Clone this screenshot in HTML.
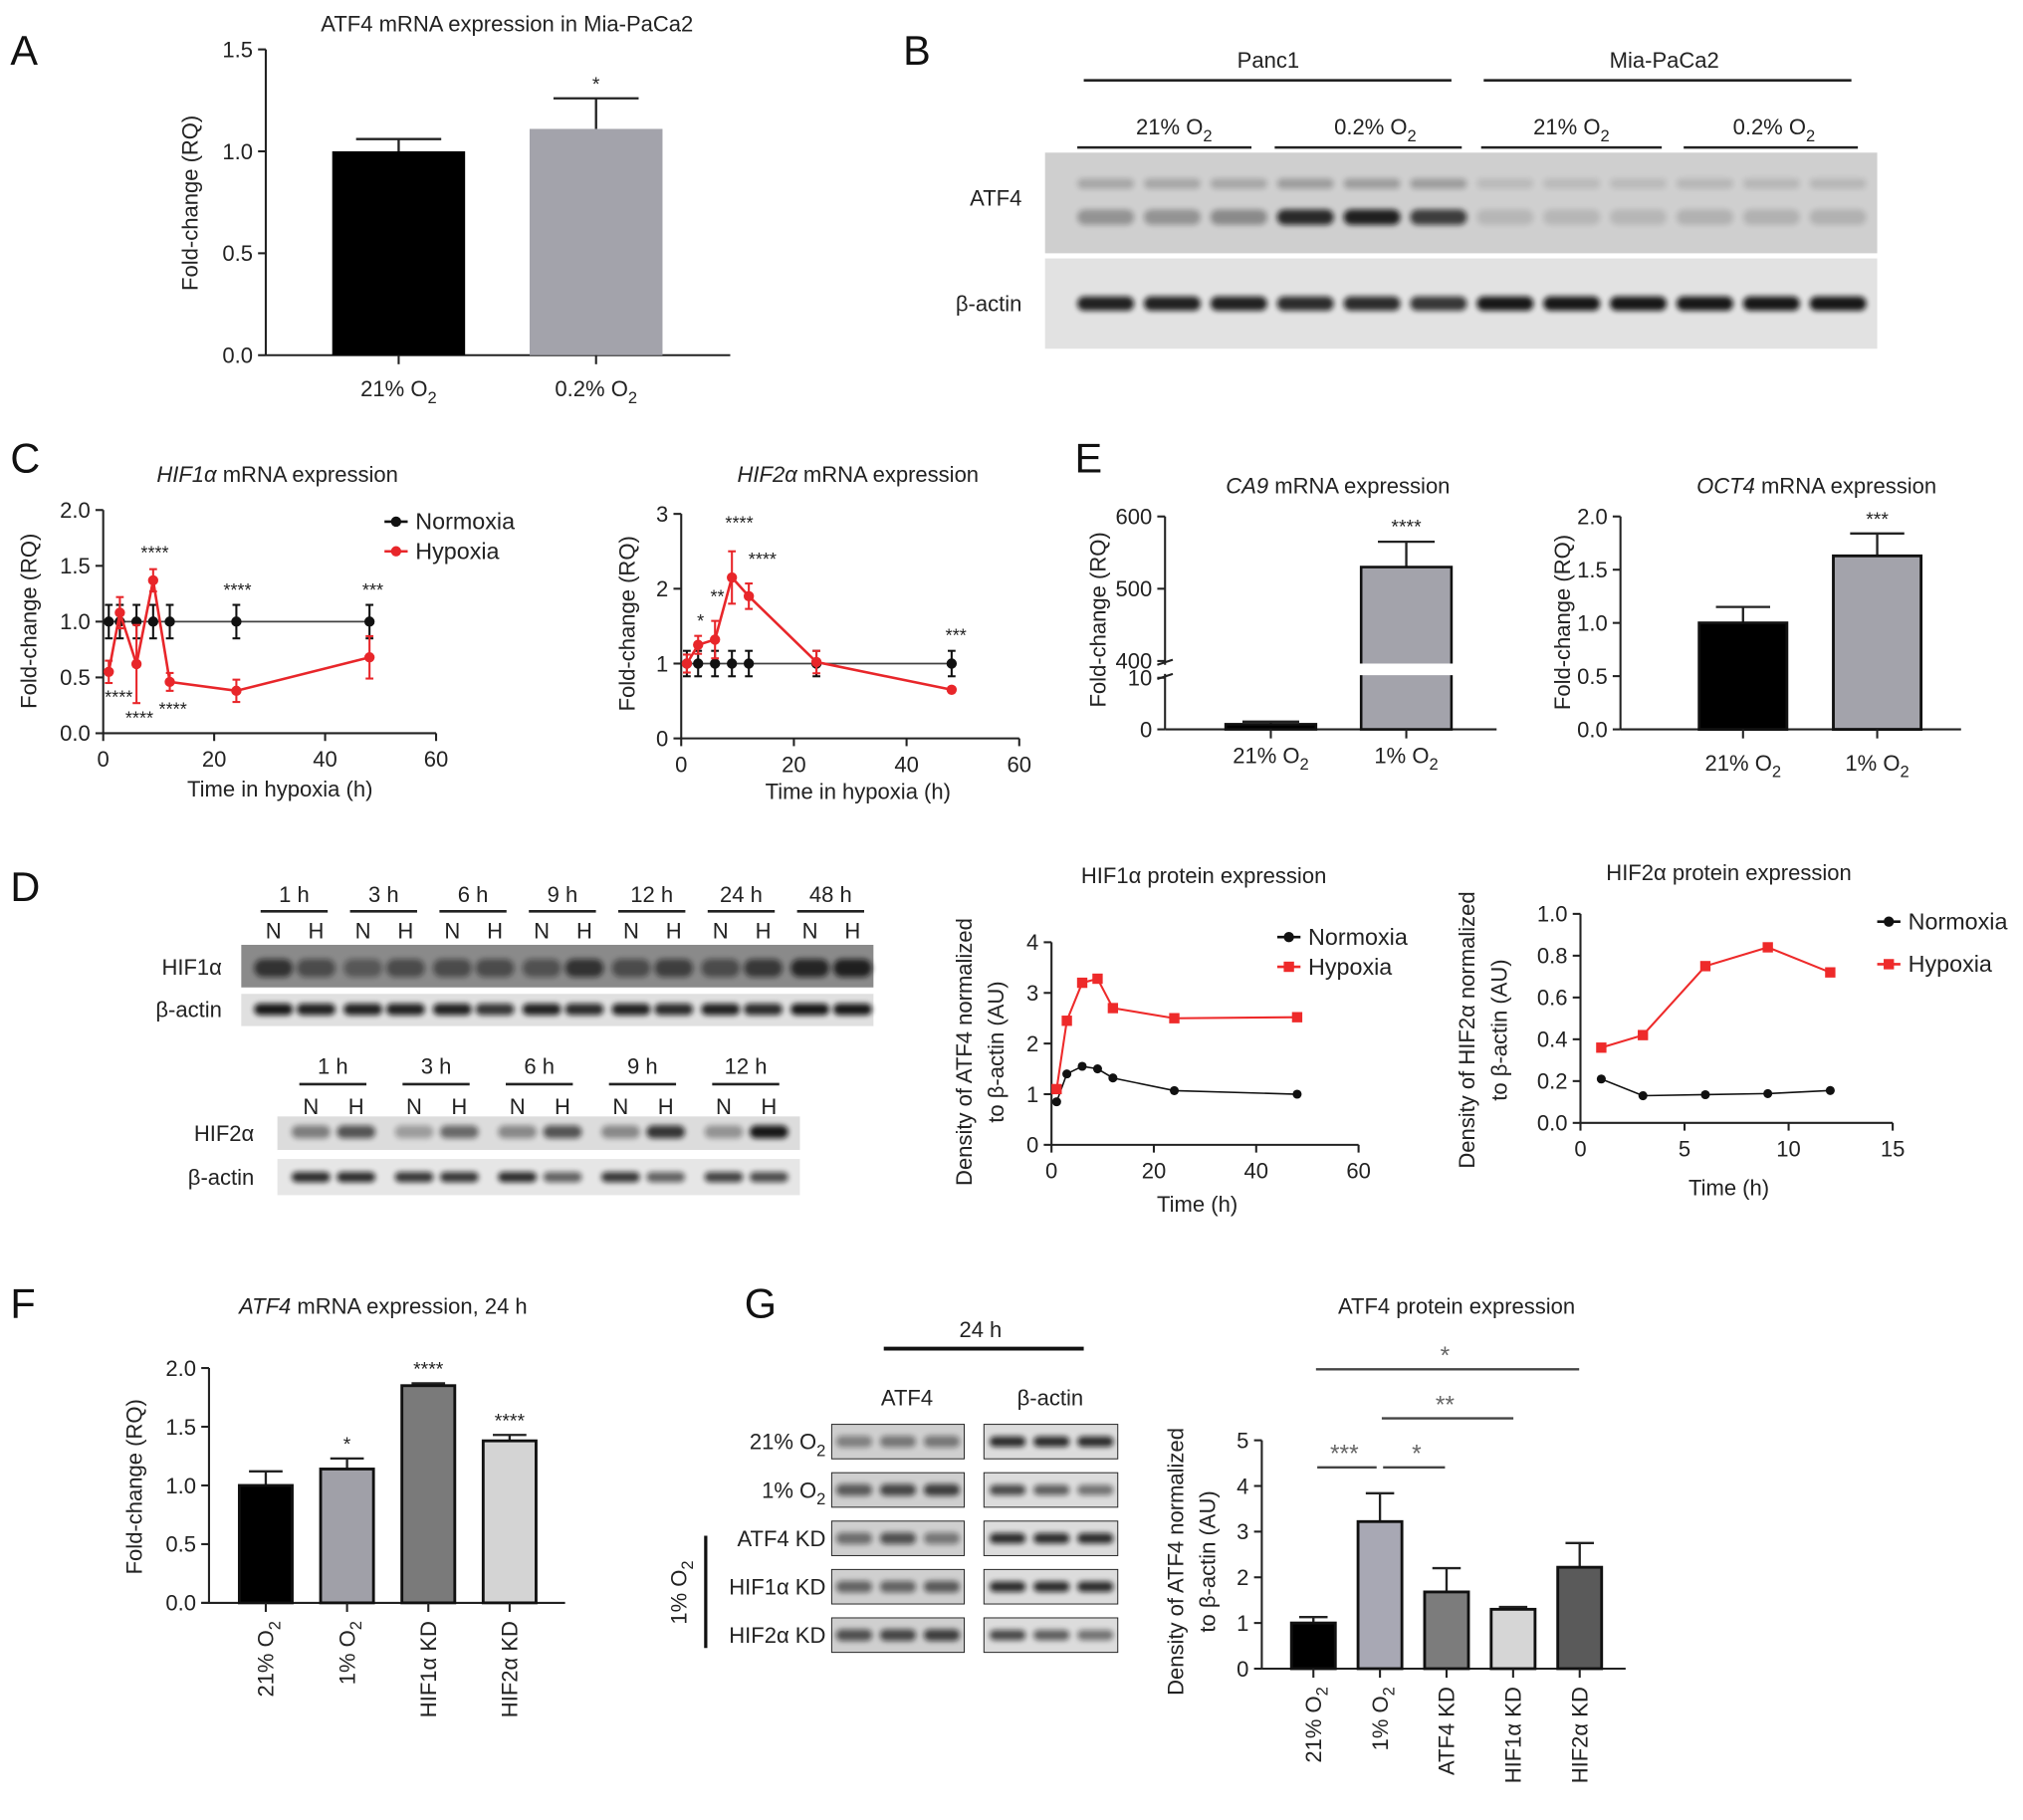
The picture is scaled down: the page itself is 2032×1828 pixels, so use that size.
<!DOCTYPE html>
<html><head><meta charset="utf-8">
<style>
html,body{margin:0;padding:0;background:#fff;}
svg{display:block;font-family:"Liberation Sans",Arial,sans-serif;}
</style></head>
<body>
<svg id="fig" xmlns="http://www.w3.org/2000/svg" width="2032" height="1828" viewBox="0 0 1568 1410">
<defs><filter id="blur" x="-20%" y="-50%" width="140%" height="200%"><feGaussianBlur stdDeviation="2"/></filter></defs>
<rect x="0" y="0" width="1568" height="1410" fill="#fff"/>
<text x="8" y="50" font-size="32" fill="#111">A</text>
<text x="700" y="50" font-size="32" fill="#111">B</text>
<text x="8" y="366" font-size="32" fill="#111">C</text>
<text x="833" y="366" font-size="32" fill="#111">E</text>
<text x="8" y="698" font-size="32" fill="#111">D</text>
<text x="8" y="1021" font-size="32" fill="#111">F</text>
<text x="577" y="1021" font-size="32" fill="#111">G</text>
</svg>
<script>
// ---------- DATA ----------
const aCats = ['21% O_2', '0.2% O_2'];
const aVals = [1.0, 1.11];
const aErrs = [0.06, 0.15];
const aTicks = [0, 0.5, 1.0, 1.5];

const c1Times = [1, 3, 6, 9, 12, 24, 48];
const c1Norm = [1, 1, 1, 1, 1, 1, 1];
const c1NormErr = [0.15, 0.15, 0.15, 0.15, 0.15, 0.15, 0.15];
const c1Hyp = [0.55, 1.08, 0.62, 1.37, 0.46, 0.38, 0.68];
const c1HypErr = [0.1, 0.14, 0.35, 0.1, 0.08, 0.1, 0.19];
const c1YTicks = [0, 0.5, 1.0, 1.5, 2.0];
const c1XTicks = [0, 20, 40, 60];

const c2Times = [1, 3, 6, 9, 12, 24, 48];
const c2Norm = [1, 1, 1, 1, 1, 1, 1];
const c2NormErr = [0.17, 0.17, 0.17, 0.17, 0.17, 0.17, 0.17];
const c2Hyp = [1.0, 1.25, 1.32, 2.15, 1.9, 1.02, 0.65];
const c2HypErr = [0.12, 0.12, 0.25, 0.35, 0.17, 0.15, 0.03];
const c2YTicks = [0, 1, 2, 3];
const c2XTicks = [0, 20, 40, 60];

const eCats = ['21% O_2', '1% O_2'];
const ca9Vals = [1, 530];
const ca9Errs = [0.5, 35];
const ca9LowTicks = [0, 10];
const ca9HighTicks = [400, 500, 600];
const oct4Vals = [1.0, 1.63];
const oct4Errs = [0.15, 0.21];
const oct4Ticks = [0, 0.5, 1.0, 1.5, 2.0];

const d1Times = [1, 3, 6, 9, 12, 24, 48];
const d1Norm = [0.85, 1.4, 1.55, 1.5, 1.32, 1.07, 1.0];
const d1Hyp = [1.1, 2.45, 3.2, 3.28, 2.7, 2.5, 2.52];
const d1YTicks = [0, 1, 2, 3, 4];
const d1XTicks = [0, 20, 40, 60];

const d2Times = [1, 3, 6, 9, 12];
const d2Norm = [0.21, 0.13, 0.135, 0.14, 0.155];
const d2Hyp = [0.36, 0.42, 0.75, 0.84, 0.72];
const d2YTicks = [0, 0.2, 0.4, 0.6, 0.8, 1.0];
const d2XTicks = [0, 5, 10, 15];

const fCats = ['21% O_2', '1% O_2', 'HIF1α KD', 'HIF2α KD'];
const fVals = [1.0, 1.14, 1.85, 1.38];
const fErrs = [0.12, 0.09, 0.02, 0.05];
const fStars = ['', '*', '****', '****'];
const fTicks = [0, 0.5, 1.0, 1.5, 2.0];

const gCats = ['21% O_2', '1% O_2', 'ATF4 KD', 'HIF1α KD', 'HIF2α KD'];
const gVals = [1.0, 3.22, 1.68, 1.3, 2.22];
const gErrs = [0.13, 0.62, 0.52, 0.05, 0.53];
const gTicks = [0, 1, 2, 3, 4, 5];

// ---------- HELPERS ----------
const NS = 'http://www.w3.org/2000/svg';
const svg = document.getElementById('fig');
function el(tag, attrs, name, parent) {
  const e = document.createElementNS(NS, tag);
  for (const k in attrs) e.setAttribute(k, attrs[k]);
  
  
  (parent || svg).appendChild(e);
  return e;
}
function fmt(v, d) { return v.toFixed(d); }
// text with ~italic~ and _2 subscripts
function txt(x, y, s, name, o) {
  o = o || {};
  const a = { x: x, y: y, 'font-size': o.size || 16, 'text-anchor': o.anchor || 'middle', fill: o.fill || '#222' };
  if (o.rot != null) a.transform = 'rotate(' + o.rot + ' ' + x + ' ' + y + ')';
  const t = el('text', a, name, o.parent);
  const parts = s.split(/(~[^~]+~|_\d)/).filter(p => p.length);
  let sub = false;
  parts.forEach(p => {
    const ts = document.createElementNS(NS, 'tspan');
    if (p[0] === '~') { ts.textContent = p.slice(1, -1); ts.setAttribute('font-style', 'italic'); }
    else if (p[0] === '_') { ts.textContent = p.slice(1); ts.setAttribute('font-size', (o.size || 16) * 0.75); ts.setAttribute('dy', (o.size || 16) * 0.3); sub = true; }
    else { ts.textContent = p; if (sub) { ts.setAttribute('dy', -(o.size || 16) * 0.3); sub = false; } }
    t.appendChild(ts);
  });
  return t;
}
function line(x1, y1, x2, y2, name, stroke, w, parent) {
  return el('line', { x1: x1, y1: y1, x2: x2, y2: y2, stroke: stroke || '#222', 'stroke-width': w || 1.6 }, name, parent);
}

function yAxis(g, x, yTop, yBot, vmin, vmax, ticks, dec, size) {
  const Y = v => yBot - (v - vmin) / (vmax - vmin) * (yBot - yTop);
  line(x, yTop, x, yBot, 'y-axis-line', '#222', 1.6, g);
  ticks.forEach(t => {
    line(x - 6, Y(t), x, Y(t), 'y-tick', '#222', 1.6, g);
    txt(x - 10, Y(t) + 6, fmt(t, dec), 'y-tick-label', { anchor: 'end', size: size || 17, parent: g });
  });
  return Y;
}

function barChart(o) {
  const g = el('g', {}, o.name);
  const Y = yAxis(g, o.axisX, o.yTop, o.yBot, o.vmin, o.vmax, o.ticks, o.dec);
  line(o.axisStart || o.axisX, o.yBot, o.axisEnd, o.yBot, 'x-axis-line', '#222', 1.6, g);
  o.vals.forEach((v, i) => {
    const cx = o.c0 + i * o.step;
    const top = Y(v), etop = Y(v + o.errs[i]);
    line(cx, top, cx, etop, 'error-bar', '#222', 1.8, g);
    line(cx - o.cap, etop, cx + o.cap, etop, 'error-cap', '#222', 1.8, g);
    el('rect', { x: cx - o.bw / 2, y: top, width: o.bw, height: o.yBot - top, fill: o.colors[i], stroke: o.stroke ? '#111' : 'none', 'stroke-width': 2.2 }, 'bar-' + i, g);
    line(cx, o.yBot, cx, o.yBot + 7, 'x-tick', '#222', 1.6, g);
    if (o.rotLabels) txt(cx + 6, o.yBot + 14, o.cats[i], 'x-tick-label', { anchor: 'end', rot: -90, size: 17, parent: g });
    else txt(cx, o.yBot + 32, o.cats[i], 'x-tick-label', { size: 17, parent: g });
    if (o.stars && o.stars[i]) txt(cx, etop - 6, o.stars[i], 'significance-star', { size: 15, parent: g });
  });
  return { g: g, Y: Y };
}

function lineChart(o) {
  const g = el('g', {}, o.name);
  const Y = yAxis(g, o.axisX, o.yTop, o.yBot, o.vmin, o.vmax, o.yTicks, o.dec);
  const X = t => o.axisX + (t - o.tmin) / (o.tmax - o.tmin) * (o.xEnd - o.axisX);
  line(o.axisX, o.yBot, o.xEnd, o.yBot, 'x-axis-line', '#222', 1.6, g);
  o.xTicks.forEach(t => {
    line(X(t), o.yBot, X(t), o.yBot + 6, 'x-tick', '#222', 1.6, g);
    txt(X(t), o.yBot + 26, String(t), 'x-tick-label', { size: 17, parent: g });
  });
  o.series.forEach(s => {
    const pts = o.times.map((t, i) => X(t).toFixed(1) + ',' + Y(s.vals[i]).toFixed(1)).join(' ');
    el('polyline', { points: pts, fill: 'none', stroke: s.color, 'stroke-width': s.lw || 2, opacity: s.op || 1 }, s.name + '-line', g);
    o.times.forEach((t, i) => {
      const cx = X(t), cy = Y(s.vals[i]);
      if (s.errs) {
        const e = s.errs[i];
        line(cx, Y(s.vals[i] + e), cx, Y(s.vals[i] - e), s.name + '-error-bar', s.color, 1.6, g);
        line(cx - 3, Y(s.vals[i] + e), cx + 3, Y(s.vals[i] + e), s.name + '-error-cap', s.color, 1.6, g);
        line(cx - 3, Y(s.vals[i] - e), cx + 3, Y(s.vals[i] - e), s.name + '-error-cap', s.color, 1.6, g);
      }
      if (s.square) el('rect', { x: cx - 4, y: cy - 4, width: 8, height: 8, fill: s.color }, s.name + '-point', g);
      else el('circle', { cx: cx, cy: cy, r: s.r || 4, fill: s.color }, s.name + '-point', g);
    });
  });
  return { g: g, X: X, Y: Y };
}

function legend(x, y, label, color, square, name) {
  const g = el('g', {}, name);
  line(x, y, x + 18, y, 'legend-line', color, 2, g);
  if (square) el('rect', { x: x + 5, y: y - 4, width: 8, height: 8, fill: color }, 'legend-marker', g);
  else el('circle', { cx: x + 9, cy: y, r: 4, fill: color }, 'legend-marker', g);
  txt(x + 24, y + 6, label, 'legend-label', { anchor: 'start', size: 18, parent: g });
}

function blot(x, y, w, h, bg, lanes, intens, bandY, bandH, bandW, name, color) {
  const g = el('g', {}, name);
  el('rect', { x: x, y: y, width: w, height: h, fill: bg }, 'blot-membrane', g);
  lanes.forEach((cx, i) => {
    el('rect', { x: cx - bandW / 2, y: y + bandY - bandH / 2, width: bandW, height: bandH, rx: bandH / 2, fill: color || '#111', opacity: intens[i], filter: 'url(#blur)' }, 'blot-band', g);
  });
  return g;
}
function lanesEven(first, step, n) { const a = []; for (let i = 0; i < n; i++) a.push(first + i * step); return a; }
function lanesPairs(first, pairStep, off, n) { const a = []; for (let i = 0; i < n; i++) { a.push(first + i * pairStep); a.push(first + i * pairStep + off); } return a; }

// ---------- PANEL A ----------
txt(393, 24, 'ATF4 mRNA expression in Mia-PaCa2', 'panel-a-title', { size: 17 });
txt(153, 157, 'Fold-change (RQ)', 'panel-a-y-title', { rot: -90, size: 17 });
barChart({ name: 'panel-a-chart', axisX: 206, yTop: 38, yBot: 275, vmin: 0, vmax: 1.5, ticks: aTicks, dec: 1,
  axisEnd: 566, vals: aVals, errs: aErrs, cats: aCats, c0: 309, step: 153, bw: 103, cap: 33,
  colors: ['#000', '#a3a3ab'], stroke: false, stars: ['', '*'] });

// ---------- PANEL B ----------
(function () {
  const g = el('g', {}, 'panel-b-blot');
  txt(983, 52, 'Panc1', 'panc1-label', { size: 17, parent: g });
  line(840, 62, 1125, 62, 'panc1-bracket', '#222', 2, g);
  txt(1290, 52, 'Mia-PaCa2', 'miapaca2-label', { size: 17, parent: g });
  line(1150, 62, 1435, 62, 'miapaca2-bracket', '#222', 2, g);
  [[910, 835, 970, '21% O_2'], [1066, 988, 1133, '0.2% O_2'], [1218, 1148, 1288, '21% O_2'], [1375, 1305, 1440, '0.2% O_2']].forEach(c => {
    txt(c[0], 104, c[3], 'condition-label', { size: 17, parent: g });
    line(c[1], 114, c[2], 114, 'condition-bracket', '#222', 2, g);
  });
  txt(792, 159, 'ATF4', 'atf4-row-label', { anchor: 'end', size: 17, parent: g });
  txt(792, 241, 'β-actin', 'beta-actin-row-label', { anchor: 'end', size: 17, parent: g });
  const L = lanesEven(857, 51.6, 12);
  blot(810, 118, 645, 78, '#cfcfcf', L, [0.3, 0.3, 0.35, 0.85, 0.9, 0.75, 0.12, 0.12, 0.12, 0.15, 0.15, 0.15], 50, 12, 44, 'atf4-blot-b');
  blot(810, 118, 645, 78, 'none', L, [0.2, 0.2, 0.2, 0.25, 0.25, 0.25, 0.1, 0.1, 0.1, 0.12, 0.12, 0.12], 24, 8, 44, 'atf4-upper-band');
  blot(810, 200, 645, 70, '#e2e2e2', L, [0.9, 0.9, 0.9, 0.85, 0.85, 0.8, 0.95, 0.95, 0.95, 0.95, 0.95, 0.95], 35, 11, 44, 'actin-blot-b');
})();

// ---------- PANEL C ----------
txt(215, 373, '~HIF1α~ mRNA expression', 'panel-c1-title', { size: 17 });
txt(28, 481, 'Fold-change (RQ)', 'panel-c1-y-title', { rot: -90, size: 17 });
txt(217, 617, 'Time in hypoxia (h)', 'panel-c1-x-title', { size: 17 });
lineChart({ name: 'panel-c1-chart', axisX: 80, xEnd: 338, yTop: 395, yBot: 568, vmin: 0, vmax: 2, yTicks: c1YTicks, dec: 1,
  tmin: 0, tmax: 60, xTicks: c1XTicks, times: c1Times,
  series: [{ name: 'normoxia', vals: c1Norm, errs: c1NormErr, color: '#111', lw: 1.4, op: 0.8 },
           { name: 'hypoxia', vals: c1Hyp, errs: c1HypErr, color: '#e8262a' }] });
legend(298, 404, 'Normoxia', '#111', false, 'legend-normoxia-c1');
legend(298, 427, 'Hypoxia', '#e8262a', false, 'legend-hypoxia-c1');
[[120, 433, '****'], [184, 462, '****'], [289, 462, '***'], [92, 545, '****'], [108, 561, '****'], [134, 554, '****']].forEach(s =>
  txt(s[0], s[1], s[2], 'significance-star', { size: 14 }));

txt(665, 373, '~HIF2α~ mRNA expression', 'panel-c2-title', { size: 17 });
txt(492, 483, 'Fold-change (RQ)', 'panel-c2-y-title', { rot: -90, size: 17 });
txt(665, 619, 'Time in hypoxia (h)', 'panel-c2-x-title', { size: 17 });
lineChart({ name: 'panel-c2-chart', axisX: 528, xEnd: 790, yTop: 398, yBot: 572, vmin: 0, vmax: 3, yTicks: c2YTicks, dec: 0,
  tmin: 0, tmax: 60, xTicks: c2XTicks, times: c2Times,
  series: [{ name: 'normoxia', vals: c2Norm, errs: c2NormErr, color: '#111', lw: 1.4, op: 0.8 },
           { name: 'hypoxia', vals: c2Hyp, errs: c2HypErr, color: '#e8262a' }] });
[[543, 486, '*'], [556, 467, '**'], [573, 410, '****'], [591, 438, '****'], [741, 497, '***']].forEach(s =>
  txt(s[0], s[1], s[2], 'significance-star', { size: 14 }));

// ---------- PANEL E ----------
(function () {
  txt(1037, 382, '~CA9~ mRNA expression', 'panel-e1-title', { size: 17 });
  txt(857, 480, 'Fold-change (RQ)', 'panel-e1-y-title', { rot: -90, size: 17 });
  const g = el('g', {}, 'panel-e1-chart');
  const ax = 903, lowTop = 525, lowBot = 565, hiTop = 400, hiBot = 512;
  const Y = v => v <= 10 ? lowBot - v / 10 * (lowBot - lowTop) : hiBot - (v - 400) / 200 * (hiBot - hiTop);
  line(ax, hiTop, ax, hiBot + 3, 'y-axis-upper', '#222', 1.6, g);
  line(ax, lowTop - 3, ax, lowBot, 'y-axis-lower', '#222', 1.6, g);
  line(ax - 6, hiBot + 3, ax + 6, hiBot - 1, 'axis-break-mark', '#222', 1.6, g);
  line(ax - 6, lowTop + 1, ax + 6, lowTop - 3, 'axis-break-mark', '#222', 1.6, g);
  ca9HighTicks.concat(ca9LowTicks).forEach(t => {
    line(ax - 6, Y(t), ax, Y(t), 'y-tick', '#222', 1.6, g);
    txt(ax - 10, Y(t) + 6, String(t), 'y-tick-label', { anchor: 'end', size: 17, parent: g });
  });
  line(ax, lowBot, 1160, lowBot, 'x-axis-line', '#222', 1.6, g);
  const colors = ['#000', '#a3a3ab'];
  ca9Vals.forEach((v, i) => {
    const cx = 985 + i * 105;
    const top = Y(v), et = Y(v + ca9Errs[i]);
    line(cx, top, cx, et, 'error-bar', '#222', 1.8, g);
    line(cx - 22, et, cx + 22, et, 'error-cap', '#222', 1.8, g);
    el('rect', { x: cx - 35, y: top, width: 70, height: lowBot - top, fill: colors[i], stroke: '#111', 'stroke-width': 2 }, 'bar-' + i, g);
    line(cx, lowBot, cx, lowBot + 7, 'x-tick', '#222', 1.6, g);
    txt(cx, lowBot + 26, eCats[i], 'x-tick-label', { size: 17, parent: g });
  });
  el('rect', { x: 1045, y: hiBot + 2, width: 90, height: 9, fill: '#fff' }, 'axis-break-gap', g);
  txt(1090, 413, '****', 'significance-star', { size: 15, parent: g });
})();
txt(1408, 382, '~OCT4~ mRNA expression', 'panel-e2-title', { size: 17 });
txt(1217, 482, 'Fold-change (RQ)', 'panel-e2-y-title', { rot: -90, size: 17 });
barChart({ name: 'panel-e2-chart', axisX: 1256, yTop: 400, yBot: 565, vmin: 0, vmax: 2, ticks: oct4Ticks, dec: 1,
  axisEnd: 1520, vals: oct4Vals, errs: oct4Errs, cats: eCats, c0: 1351, step: 104, bw: 68, cap: 21,
  colors: ['#000', '#a3a3ab'], stroke: true, stars: ['', '***'] });

// ---------- PANEL D BLOTS ----------
(function () {
  const g = el('g', {}, 'panel-d-blots');
  const times1 = ['1 h', '3 h', '6 h', '9 h', '12 h', '24 h', '48 h'];
  const L1 = lanesPairs(212, 69.3, 33, 7);
  times1.forEach((t, i) => {
    const cx = L1[2 * i] + 16;
    txt(cx, 699, t, 'timepoint-label', { size: 17, parent: g });
    line(cx - 26, 706, cx + 26, 706, 'timepoint-bracket', '#222', 2, g);
    txt(L1[2 * i], 727, 'N', 'normoxia-lane-label', { size: 17, parent: g });
    txt(L1[2 * i + 1], 727, 'H', 'hypoxia-lane-label', { size: 17, parent: g });
  });
  txt(172, 755, 'HIF1α', 'hif1a-row-label', { anchor: 'end', size: 17, parent: g });
  txt(172, 788, 'β-actin', 'actin-row-label-d1', { anchor: 'end', size: 17, parent: g });
  blot(187, 732, 490, 33, '#8a8a8a', L1, [0.7, 0.5, 0.4, 0.5, 0.5, 0.5, 0.45, 0.7, 0.5, 0.6, 0.5, 0.65, 0.8, 0.85], 18, 14, 30, 'hif1a-blot');
  blot(187, 770, 490, 25, '#e0e0e0', L1, [0.95, 0.9, 0.9, 0.9, 0.9, 0.8, 0.9, 0.85, 0.9, 0.85, 0.9, 0.85, 0.95, 0.95], 12, 9, 30, 'actin-blot-d1');

  const times2 = ['1 h', '3 h', '6 h', '9 h', '12 h'];
  const L2 = lanesPairs(241, 80, 35, 5);
  times2.forEach((t, i) => {
    const cx = L2[2 * i] + 17;
    txt(cx, 832, t, 'timepoint-label', { size: 17, parent: g });
    line(cx - 26, 840, cx + 26, 840, 'timepoint-bracket', '#222', 2, g);
    txt(L2[2 * i], 863, 'N', 'normoxia-lane-label', { size: 17, parent: g });
    txt(L2[2 * i + 1], 863, 'H', 'hypoxia-lane-label', { size: 17, parent: g });
  });
  txt(197, 884, 'HIF2α', 'hif2a-row-label', { anchor: 'end', size: 17, parent: g });
  txt(197, 918, 'β-actin', 'actin-row-label-d2', { anchor: 'end', size: 17, parent: g });
  blot(215, 865, 405, 26, '#dcdcdc', L2, [0.45, 0.65, 0.3, 0.55, 0.4, 0.65, 0.4, 0.8, 0.35, 0.95], 12, 10, 30, 'hif2a-blot');
  blot(215, 898, 405, 28, '#e6e6e6', L2, [0.85, 0.85, 0.8, 0.8, 0.85, 0.6, 0.8, 0.6, 0.75, 0.7], 14, 8, 30, 'actin-blot-d2');
})();

// ---------- PANEL D CHARTS ----------
txt(933, 684, 'HIF1α protein expression', 'panel-d1-title', { size: 17 });
txt(753, 815, 'Density of ATF4 normalized', 'panel-d1-y-title-line1', { rot: -90, size: 17 });
txt(778, 815, 'to β-actin (AU)', 'panel-d1-y-title-line2', { rot: -90, size: 17 });
txt(928, 939, 'Time (h)', 'panel-d1-x-title', { size: 17 });
lineChart({ name: 'panel-d1-chart', axisX: 815, xEnd: 1053, yTop: 730, yBot: 887, vmin: 0, vmax: 4, yTicks: d1YTicks, dec: 0,
  tmin: 0, tmax: 60, xTicks: d1XTicks, times: d1Times,
  series: [{ name: 'normoxia', vals: d1Norm, color: '#111', lw: 1.2, r: 3.5 },
           { name: 'hypoxia', vals: d1Hyp, color: '#ee2a2a', square: true, lw: 1.6 }] });
legend(990, 726, 'Normoxia', '#111', false, 'legend-normoxia-d1');
legend(990, 749, 'Hypoxia', '#ee2a2a', true, 'legend-hypoxia-d1');

txt(1340, 682, 'HIF2α protein expression', 'panel-d2-title', { size: 17 });
txt(1143, 798, 'Density of HIF2α normalized', 'panel-d2-y-title-line1', { rot: -90, size: 17 });
txt(1168, 798, 'to β-actin (AU)', 'panel-d2-y-title-line2', { rot: -90, size: 17 });
txt(1340, 926, 'Time (h)', 'panel-d2-x-title', { size: 17 });
lineChart({ name: 'panel-d2-chart', axisX: 1225, xEnd: 1467, yTop: 708, yBot: 870, vmin: 0, vmax: 1, yTicks: d2YTicks, dec: 1,
  tmin: 0, tmax: 15, xTicks: d2XTicks, times: d2Times,
  series: [{ name: 'normoxia', vals: d2Norm, color: '#111', lw: 1.2, r: 3.5 },
           { name: 'hypoxia', vals: d2Hyp, color: '#ee2a2a', square: true, lw: 1.6 }] });
legend(1455, 714, 'Normoxia', '#111', false, 'legend-normoxia-d2');
legend(1455, 747, 'Hypoxia', '#ee2a2a', true, 'legend-hypoxia-d2');

// ---------- PANEL F ----------
txt(297, 1018, '~ATF4~ mRNA expression, 24 h', 'panel-f-title', { size: 17 });
txt(110, 1152, 'Fold-change (RQ)', 'panel-f-y-title', { rot: -90, size: 17 });
barChart({ name: 'panel-f-chart', axisX: 162, axisStart: 156, yTop: 1060, yBot: 1242, vmin: 0, vmax: 2, ticks: fTicks, dec: 1,
  axisEnd: 438, vals: fVals, errs: fErrs, cats: fCats, c0: 206, step: 63, bw: 41, cap: 13,
  colors: ['#000', '#a0a0a8', '#7a7a7a', '#d4d4d4'], stroke: true, stars: fStars, rotLabels: true });

// ---------- PANEL G BLOTS ----------
(function () {
  const g = el('g', {}, 'panel-g-blots');
  txt(760, 1036, '24 h', 'g-time-label', { size: 17, parent: g });
  line(685, 1045, 840, 1045, 'g-time-bracket', '#111', 3, g);
  txt(703, 1089, 'ATF4', 'g-atf4-column-label', { size: 17, parent: g });
  txt(814, 1089, 'β-actin', 'g-actin-column-label', { size: 17, parent: g });
  const rows = ['21% O_2', '1% O_2', 'ATF4 KD', 'HIF1α KD', 'HIF2α KD'];
  const atfI = [[0.4, 0.45, 0.45], [0.6, 0.7, 0.75], [0.5, 0.65, 0.45], [0.55, 0.55, 0.6], [0.65, 0.7, 0.75]];
  const actI = [[0.85, 0.85, 0.85], [0.7, 0.6, 0.5], [0.85, 0.85, 0.85], [0.85, 0.85, 0.85], [0.7, 0.6, 0.5]];
  rows.forEach((r, i) => {
    const y = 1104 + i * 37.5;
    txt(640, y + 19, r, 'g-row-label', { anchor: 'end', size: 17, parent: g });
    blot(645, y, 102, 26, '#cfcfcf', lanesEven(662, 34, 3), atfI[i], 13, 9, 28, 'g-atf4-blot-row');
    el('rect', { x: 645, y: y, width: 102, height: 26, fill: 'none', stroke: '#222', 'stroke-width': 1.5 }, 'g-blot-frame', g);
    blot(763, y, 103, 26, '#dcdcdc', lanesEven(781, 34, 3), actI[i], 13, 8, 28, 'g-actin-blot-row');
    el('rect', { x: 763, y: y, width: 103, height: 26, fill: 'none', stroke: '#222', 'stroke-width': 1.5 }, 'g-blot-frame', g);
  });
  line(547, 1190, 547, 1277, 'g-hypoxia-bracket', '#111', 2.5, g);
  txt(532, 1234, '1% O_2', 'g-hypoxia-label', { rot: -90, size: 17, parent: g });
})();

// ---------- PANEL G CHART ----------
txt(1129, 1018, 'ATF4 protein expression', 'panel-g-title', { size: 17 });
txt(917, 1210, 'Density of ATF4 normalized', 'panel-g-y-title-line1', { rot: -90, size: 17 });
txt(942, 1210, 'to β-actin (AU)', 'panel-g-y-title-line2', { rot: -90, size: 17 });
barChart({ name: 'panel-g-chart', axisX: 978, yTop: 1116, yBot: 1293, vmin: 0, vmax: 5, ticks: gTicks, dec: 0,
  axisEnd: 1260, vals: gVals, errs: gErrs, cats: gCats, c0: 1018, step: 51.6, bw: 34, cap: 11,
  colors: ['#000', '#a8a8b4', '#7c7c7c', '#d6d6d6', '#5a5a5a'], stroke: true, rotLabels: true });
[[1020, 1224, 1061, 1120, '*'], [1071, 1173, 1099, 1120, '**'], [1021, 1067, 1137, 1042, '***'], [1072, 1120, 1137, 1098, '*']].forEach(s => {
  line(s[0], s[2], s[1], s[2], 'significance-line', '#444', 1.8);
  txt(s[3], s[2] - 4, s[4], 'significance-star', { size: 19, fill: '#666' });
});
</script>
</body></html>
